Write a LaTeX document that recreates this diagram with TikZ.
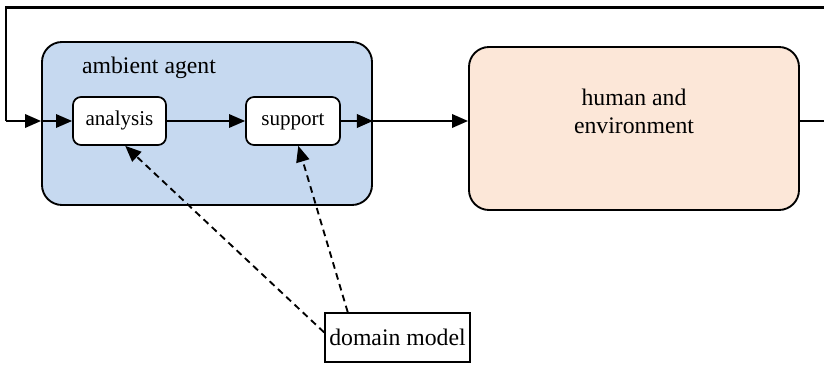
\documentclass[tikz,border=0pt]{standalone}
\usepackage{fontspec}
\setmainfont{Liberation Serif}
\newfontfamily\diagfont{Liberation Serif}
\usetikzlibrary{arrows.meta, positioning, calc}
\definecolor{AgentBlue}{RGB}{198, 217, 240}
\definecolor{HumanPeach}{RGB}{252, 231, 216}

\begin{document}
\begin{tikzpicture}[
    x=0.75pt, y=-0.75pt,
    >={Triangle[length=12pt, width=10pt]},
    % Define styles for the elements
    big box/.style={
        rectangle,
        rounded corners=15pt,
        draw=black,
        line width=1.4pt,
        fill=#1,
        inner sep=0pt,
        minimum width=247.5pt,
        minimum height=122.25pt
    },
    step box/.style={
        rectangle,
        rounded corners=6pt,
        draw=black,
        line width=1.3pt,
        fill=white,
        inner sep=0pt,
        text height=10.5pt,
        text depth=3.5pt,
        minimum height=36pt,
        font=\diagfont\fontsize{15.8}{18}\selectfont
    },
    model box/.style={
        rectangle,
        draw=black,
        line width=1.3pt,
        fill=white,
        inner sep=0pt,
        minimum width=108.75pt,
        minimum height=36.75pt
    },
    flow line/.style={
        ->,
        line width=1.8pt
    },
    model line/.style={
        ->,
        line width=1.4pt,
        dash pattern=on 5pt off 3.5pt
    },
    font=\diagfont\fontsize{17.8}{21}\selectfont
]
    \useasboundingbox (0,0) rectangle (824,370);

    % --- Ambient agent ---
    \node[big box=AgentBlue] (agent) at (207, 123.5) {};
    \node (agentlabel) at (149, 68) {ambient agent};
    \node[step box, minimum width=69.75pt] (analysis) at (119.5, 121) {analysis};
    \node[step box, minimum width=70.5pt] (support) at (293, 121) {support};

    % --- Human and environment ---
    \node[big box=HumanPeach] (human) at (634, 128.5) {};
    \node[align=center] (humanlabel) at (634, 111) {human and\\environment};

    % --- Domain model ---
    \node[model box] (domain) at (397.5, 337.5) {domain model};

    % --- Feedback loop corners ---
    \coordinate (loopR) at (830, 121);
    \coordinate (loopTR) at (830, 7.5);
    \coordinate (loopTL) at (6, 7.5);
    \coordinate (loopL) at (6, 121);

    % --- Connections ---
    \draw[flow line, line width=1.4pt] (analysis.east) -- (support.west);
    \draw[flow line] (support.east) -- (agent.east |- support.east);
    \draw[flow line] (agent.east |- support.east) -- (human.west |- support.east);
    \draw[line width=1.8pt] (human.east |- support.east) -- (loopR) -- (loopTR)
        -- (loopTL) -- (loopL);
    \draw[flow line] (loopL) -- (agent.west |- analysis.west);
    \draw[flow line, line width=1.4pt] (agent.west |- analysis.west) -- (analysis.west);

    % Domain model feeds both steps
    \draw[model line] (domain.176) -- (analysis.283);
    \draw[model line] (domain.153) -- (support.282);

\end{tikzpicture}
\end{document}
